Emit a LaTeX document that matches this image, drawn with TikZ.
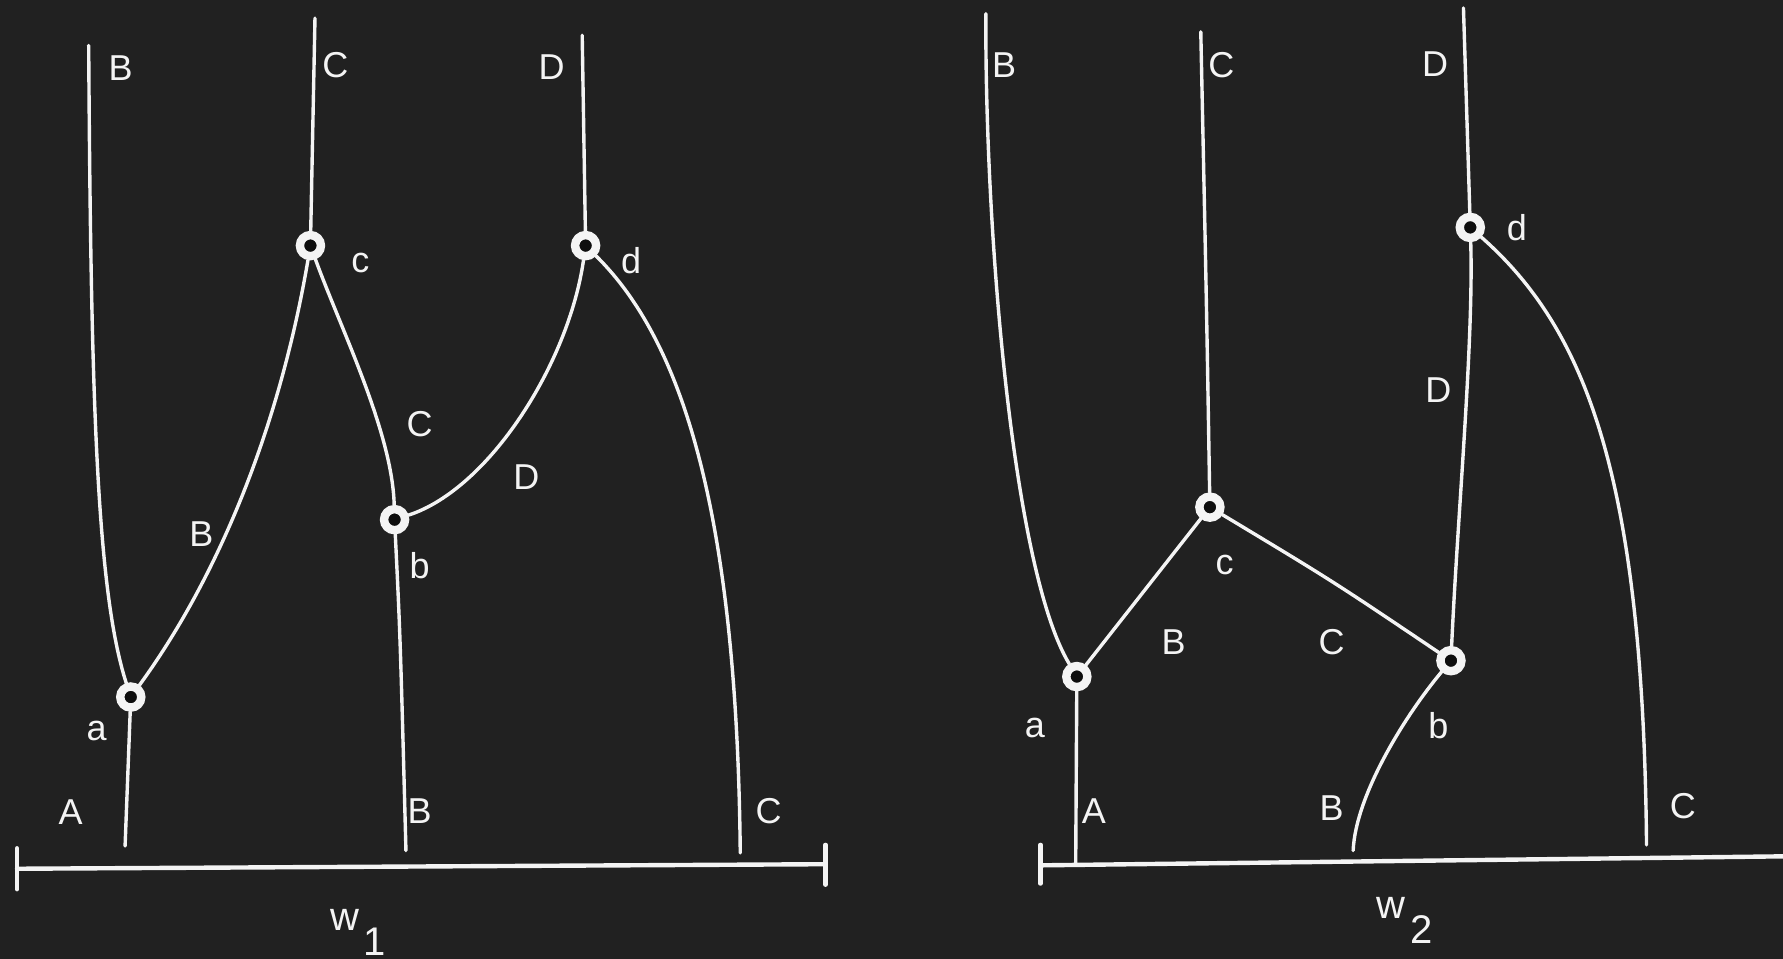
\documentclass[tikz,border=0pt]{standalone}
\usepackage{fontspec}
\setmainfont{Liberation Sans}
\definecolor{platebg}{HTML}{212121}
\definecolor{holebg}{HTML}{0E0E0E}
\definecolor{chalk}{HTML}{F4F4F4}
\tikzset{
  vtx/.style={
    circle,
    draw=chalk,
    line width=2.1pt,
    fill=holebg,
    minimum size=0.185cm,
    inner sep=0pt
  },
  lbl/.style={
    text=chalk,
    font=\fontsize{9}{10}\selectfont,
    inner sep=0pt
  },
  strand/.style={
    draw=chalk,
    line width=0.85pt,
    line cap=round
  },
  axisline/.style={
    draw=chalk,
    line width=1.1pt,
    line cap=round
  }
}

\begin{document}
\begin{tikzpicture}[x=0.01cm, y=-0.01cm]
  \useasboundingbox (0,0) rectangle (1568,843);
  \fill[platebg] (0,0) rectangle (1568,843);

  \node[vtx] (a1) at (115,613) {};
  \node[vtx] (c1) at (273,216) {};
  \node[vtx] (b1) at (347,457) {};
  \node[vtx] (d1) at (515,216) {};
  \coordinate (topB1) at (78,40);
  \coordinate (topC1) at (277,16);
  \coordinate (topD1) at (512,31);
  \coordinate (endA1) at (110,744);
  \coordinate (endB1) at (357,748);
  \coordinate (endC1) at (651,750);
  \coordinate (axL1) at (15,764);
  \coordinate (axR1) at (726,760);

  \draw[strand] (topB1) .. controls (80,350) and (85,520) .. (a1);
  \draw[strand] (a1) -- (endA1);
  \draw[strand] (a1) .. controls (190,510) and (245,380) .. (c1);
  \draw[strand] (c1) -- (topC1);
  \draw[strand] (c1) .. controls (300,290) and (345,380) .. (b1);
  \draw[strand] (b1) .. controls (352,560) .. (endB1);
  \draw[strand] (b1) .. controls (430,430) and (500,320) .. (d1);
  \draw[strand] (d1) -- (topD1);
  \draw[strand] (d1) .. controls (600,300) and (648,450) .. (endC1);
  \draw[axisline] (axL1) -- (axR1);
  \draw[axisline] ([yshift=-0.18cm]axL1) -- ([yshift=0.18cm]axL1);
  \draw[axisline] ([yshift=-0.18cm]axR1) -- ([yshift=0.17cm]axR1);

  \node[lbl] at (106,60) {B};
  \node[lbl] at (295,57) {C};
  \node[lbl] at (485,59) {D};
  \node[lbl] at (317,231) {c};
  \node[lbl] at (555,229) {d};
  \node[lbl] at (369,373) {C};
  \node[lbl] at (463,420) {D};
  \node[lbl] at (177,470) {B};
  \node[lbl] at (369,497) {b};
  \node[lbl] at (85,643) {a};
  \node[lbl] at (62,714) {A};
  \node[lbl] at (369,713) {B};
  \node[lbl] at (676,713) {C};
  \node[lbl, anchor=base west, font=\fontsize{10}{10}\selectfont] at (290,818) {w\hspace{0.04cm}\raisebox{-0.22cm}{1}};

  \node[vtx] (a2) at (947,595) {};
  \node[vtx] (c2) at (1064,446) {};
  \node[vtx] (b2) at (1276,581) {};
  \node[vtx] (d2) at (1293,200) {};
  \coordinate (topB2) at (867,12);
  \coordinate (topC2) at (1056,28);
  \coordinate (topD2) at (1287,7);
  \coordinate (endA2) at (946,759);
  \coordinate (endB2) at (1190,748);
  \coordinate (endC2) at (1448,743);
  \coordinate (axL2) at (915,761);
  \coordinate (axR2) at (1575,753);

  \draw[strand] (topB2) .. controls (866,200) and (890,500) .. (a2);
  \draw[strand] (a2) -- (endA2);
  \draw[strand] (a2) -- (c2);
  \draw[strand] (c2) .. controls (1061,265) .. (topC2);
  \draw[strand] (c2) .. controls (1172,511) .. (b2);
  \draw[strand] (b2) .. controls (1235,630) and (1192,700) .. (endB2);
  \draw[strand] (b2) .. controls (1282,450) and (1296,300) .. (d2);
  \draw[strand] (d2) -- (topD2);
  \draw[strand] (d2) .. controls (1395,290) and (1445,420) .. (endC2);
  \draw[axisline] (axL2) -- (axR2);
  \draw[axisline] ([yshift=-0.16cm]axL2) -- ([yshift=0.18cm]axL2);

  \node[lbl] at (883,57) {B};
  \node[lbl] at (1074,57) {C};
  \node[lbl] at (1262,56) {D};
  \node[lbl] at (1334,200) {d};
  \node[lbl] at (1265,343) {D};
  \node[lbl] at (1077,497) {c};
  \node[lbl] at (1032,565) {B};
  \node[lbl] at (1171,565) {C};
  \node[lbl] at (910,640) {a};
  \node[lbl] at (1265,638) {b};
  \node[lbl] at (962,713) {A};
  \node[lbl] at (1171,711) {B};
  \node[lbl] at (1480,709) {C};
  \node[lbl, anchor=base west, font=\fontsize{10}{10}\selectfont] at (1210,808) {w\hspace{0.04cm}\raisebox{-0.22cm}{2}};
\end{tikzpicture}
\end{document}
